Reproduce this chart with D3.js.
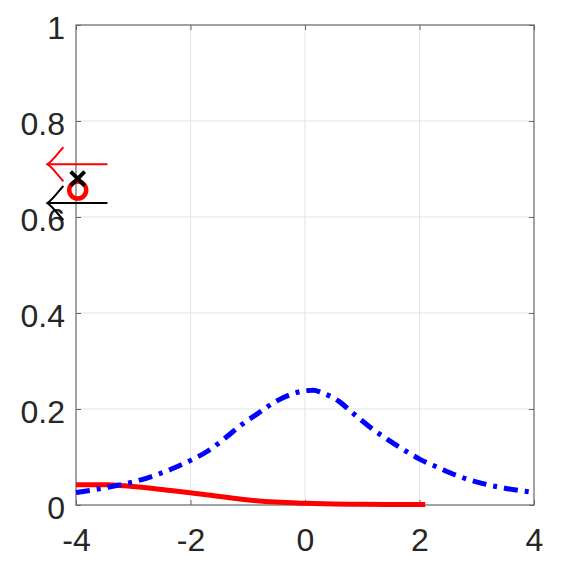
<!DOCTYPE html>
<html>
<head>
<meta charset="utf-8">
<script src="https://cdn.jsdelivr.net/npm/d3@7"></script>
<style>
  html, body { margin: 0; padding: 0; background: #fff; }
  svg { display: block; }
</style>
</head>
<body>
<svg id="chart" width="571" height="571"></svg>
<script>
// ---- data ----
const xTicks = [-4, -2, 0, 2, 4];
const xTickLabels = ["-4", "-2", "0", "2", "4"];
const yTicks = [0, 0.2, 0.4, 0.6, 0.8, 1];
const yTickLabels = ["0", "0.2", "0.4", "0.6", "0.8", "1"];

const blueX = [-4.0, -3.44, -2.85, -2.27, -1.98, -1.69, -1.40, -1.11, -0.82, -0.52, -0.23, 0.0, 0.15, 0.29, 0.58, 0.87, 1.16, 1.46, 1.75, 2.01, 2.33, 2.62, 2.91, 3.20, 3.49, 4.0];
const blueY = [0.026, 0.037, 0.053, 0.078, 0.094, 0.113, 0.139, 0.167, 0.191, 0.215, 0.231, 0.238, 0.239, 0.234, 0.217, 0.188, 0.160, 0.135, 0.113, 0.095, 0.078, 0.063, 0.051, 0.042, 0.035, 0.026];

const redX = [-4.0, -3.44, -3.15, -2.85, -2.27, -1.69, -1.11, -0.52, 0.0, 0.5, 1.0, 1.5, 2.1];
const redY = [0.042, 0.042, 0.040, 0.037, 0.029, 0.021, 0.012, 0.006, 0.0035, 0.002, 0.0015, 0.001, 0.001];

// markers
const crossPoint = [-3.97, 0.680];
const circlePoint = [-3.97, 0.656];

// arrows: [tailX, tipX, y]
const redArrow = [-3.45, -4.5, 0.710];
const blackArrow = [-3.45, -4.5, 0.629];

(function () {
// ---- layout ----
const svg = d3.select("#chart");
const mL = 76, mR = 534, mT = 25, mB = 505;
const x = d3.scaleLinear().domain([-4, 4]).range([mL, mR]);
const y = d3.scaleLinear().domain([0, 1]).range([mB, mT]);

const fontFam = "'Liberation Sans', Arial, Helvetica, sans-serif";
const textColor = "#262626";

// grid
const grid = svg.append("g");
grid.selectAll("line.gx").data(xTicks.slice(1, -1)).enter().append("line")
  .attr("x1", d => x(d)).attr("x2", d => x(d))
  .attr("y1", mT).attr("y2", mB)
  .attr("stroke", "#e3e3e3").attr("stroke-width", 1);
grid.selectAll("line.gy").data(yTicks.slice(1, -1)).enter().append("line")
  .attr("y1", d => y(d)).attr("y2", d => y(d))
  .attr("x1", mL).attr("x2", mR)
  .attr("stroke", "#e3e3e3").attr("stroke-width", 1);

// axes via d3 axis (ticks inward)
const tickLen = 5;
const axisColor = "#666";
function styleAxis(g) {
  g.select(".domain").remove();
  g.selectAll(".tick line").attr("stroke", axisColor).attr("stroke-width", 1);
}
svg.append("g").attr("transform", `translate(0,${mB})`)
  .call(d3.axisBottom(x).tickValues(xTicks).tickSize(-tickLen).tickFormat((d, i) => xTickLabels[i]))
  .call(styleAxis)
  .call(g => g.selectAll(".tick text").attr("y", 46).attr("dy", 0)
    .attr("font-size", 32).attr("font-family", fontFam).attr("fill", textColor));
svg.append("g").attr("transform", `translate(0,${mT})`)
  .call(d3.axisTop(x).tickValues(xTicks).tickSize(-tickLen).tickFormat(""))
  .call(styleAxis);
svg.append("g").attr("transform", `translate(${mL},0)`)
  .call(d3.axisLeft(y).tickValues(yTicks).tickSize(-tickLen).tickFormat((d, i) => yTickLabels[i]))
  .call(styleAxis)
  .call(g => g.selectAll(".tick text").attr("x", -11).attr("dy", 13)
    .attr("font-size", 32).attr("font-family", fontFam).attr("fill", textColor));
svg.append("g").attr("transform", `translate(${mR},0)`)
  .call(d3.axisRight(y).tickValues(yTicks).tickSize(-tickLen).tickFormat(""))
  .call(styleAxis);

// box
svg.append("rect").attr("x", mL).attr("y", mT)
  .attr("width", mR - mL).attr("height", mB - mT)
  .attr("fill", "none").attr("stroke", axisColor).attr("stroke-width", 1.2);

// lines
const line = d3.line().x(d => x(d[0])).y(d => y(d[1])).curve(d3.curveMonotoneX);

svg.append("path").datum(redX.map((v, i) => [v, redY[i]]))
  .attr("d", line).attr("fill", "none").attr("stroke", "#ff0000")
  .attr("stroke-width", 5);

svg.append("path").datum(blueX.map((v, i) => [v, blueY[i]]))
  .attr("d", line).attr("fill", "none").attr("stroke", "#0000ff")
  .attr("stroke-width", 5).attr("stroke-dasharray", "14,7,4,7");

// arrows
function drawArrow(a, color) {
  const tx = x(a[1]), ty = y(a[2]), ex = x(a[0]);
  svg.append("line").attr("x1", ex).attr("x2", tx).attr("y1", ty).attr("y2", ty)
    .attr("stroke", color).attr("stroke-width", 2);
  const p = d3.path();
  p.moveTo(tx + 16, ty - 17);
  p.bezierCurveTo(tx + 11, ty - 12, tx + 6, ty - 4, tx, ty);
  p.bezierCurveTo(tx + 6, ty + 4, tx + 11, ty + 12, tx + 16, ty + 17);
  svg.append("path").attr("d", p.toString()).attr("fill", "none")
    .attr("stroke", color).attr("stroke-width", 2);
}
drawArrow(redArrow, "#ff0000");
drawArrow(blackArrow, "#000000");

// markers
svg.append("circle").attr("cx", x(circlePoint[0])).attr("cy", y(circlePoint[1]))
  .attr("r", 8.5).attr("fill", "none").attr("stroke", "#ff0000").attr("stroke-width", 4.5);
const cx = x(crossPoint[0]), cy = y(crossPoint[1]), s = 7;
svg.append("path").attr("d", `M${cx - s},${cy - s}L${cx + s},${cy + s}M${cx - s},${cy + s}L${cx + s},${cy - s}`)
  .attr("stroke", "#000").attr("stroke-width", 4).attr("fill", "none");
})();
</script>
</body>
</html>
